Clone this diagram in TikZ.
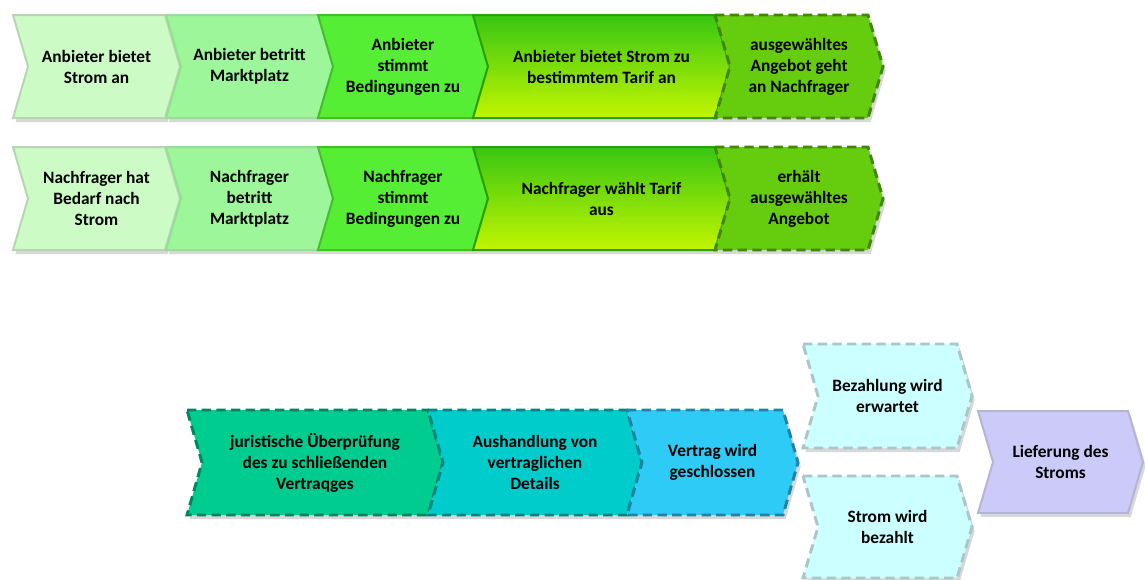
\documentclass[tikz,border=0pt]{standalone}
\usepackage{fontspec}
\setmainfont{Carlito}
\usepackage{tikz}
\usetikzlibrary{shadows}

\definecolor{paleGreen}{HTML}{CCFBC6}
\definecolor{lightGreen}{HTML}{9DF69A}
\definecolor{brightGreen}{HTML}{55EE35}
\definecolor{deepGreen}{HTML}{38C612}
\definecolor{limeGreen}{HTML}{C2F500}
\definecolor{oliveGreen}{HTML}{66CC0E}
\definecolor{tealGreen}{HTML}{00CC90}
\definecolor{tealCyan}{HTML}{00CCCC}
\definecolor{skyBlue}{HTML}{2ECBF7}
\definecolor{iceBlue}{HTML}{CCFFFF}
\definecolor{lavender}{HTML}{CCCAF8}

% chevron: name, left, top, right (body), bottom, style, text
\newcommand{\chev}[7]{%
  \path[chevron, #6] (#2,#3) -- (#4,#3) -- ({#4+15},{(#3+#5)/2}) -- (#4,#5)
    -- (#2,#5) -- ({#2+15},{(#3+#5)/2}) -- cycle;
  \node[label] (#1) at ({(#2+#4+15)/2},{(#3+#5)/2}) {#7};
}

\begin{document}
\begin{tikzpicture}[x=0.75pt, y=-0.75pt,
    chevron/.style={line width=1.5pt, line join=miter,
      drop shadow={shadow xshift=2pt, shadow yshift=-3pt, fill=black!30}},
    dashline/.style={line width=2.2pt, dash pattern=on 7pt off 4pt},
    label/.style={align=center, font=\bfseries\fontsize{13}{15.75}\selectfont, text=black}
  ]
  \useasboundingbox (0,0) rectangle (1145,579);

  % supplier row
  \chev{offer}{13}{15}{165}{118}{fill=paleGreen, draw=paleGreen!70!gray}{Anbieter bietet\\Strom an}
  \chev{offerEnter}{166}{15}{318}{118}{fill=lightGreen, draw=lightGreen!80!gray}{Anbieter betritt\\Marktplatz}
  \chev{offerAgree}{318}{15}{473}{118}{fill=brightGreen, draw=brightGreen!80!black}{Anbieter\\stimmt\\Bedingungen zu}
  \chev{offerTariff}{473}{15}{715}{118}{top color=deepGreen, bottom color=limeGreen, draw=deepGreen!80!black}{Anbieter bietet Strom zu\\bestimmtem Tarif an}
  \chev{offerSent}{715}{15}{868}{118}{fill=oliveGreen, draw=oliveGreen!65!black, dashline}{ausgewähltes\\Angebot geht\\an Nachfrager}

  % customer row
  \chev{demand}{13}{147}{165}{250}{fill=paleGreen, draw=paleGreen!70!gray}{Nachfrager hat\\Bedarf nach\\Strom}
  \chev{demandEnter}{166}{147}{318}{250}{fill=lightGreen, draw=lightGreen!80!gray}{Nachfrager\\betritt\\Marktplatz}
  \chev{demandAgree}{318}{147}{473}{250}{fill=brightGreen, draw=brightGreen!80!black}{Nachfrager\\stimmt\\Bedingungen zu}
  \chev{demandTariff}{473}{147}{715}{250}{top color=deepGreen, bottom color=limeGreen, draw=deepGreen!80!black}{Nachfrager wählt Tarif\\aus}
  \chev{demandGot}{715}{147}{868}{250}{fill=oliveGreen, draw=oliveGreen!65!black, dashline}{erhält\\ausgewähltes\\Angebot}

  % contract row
  \chev{legal}{187}{410}{428}{515}{fill=tealGreen, draw=tealGreen!65!black, dashline}{juristische Überprüfung\\des zu schließenden\\Vertraqges}
  \chev{negotiate}{428}{410}{627}{515}{fill=tealCyan, draw=tealCyan!65!black, dashline}{Aushandlung von\\vertraglichen\\Details}
  \chev{contract}{627}{410}{783}{515}{fill=skyBlue, draw=skyBlue!65!black, dashline}{Vertrag wird\\geschlossen}
  \chev{payWait}{803}{344}{957}{448}{fill=iceBlue, draw=iceBlue!55!gray, dashline}{Bezahlung wird\\erwartet}
  \chev{paid}{803}{476}{957}{578}{fill=iceBlue, draw=iceBlue!55!gray, dashline}{Strom wird\\bezahlt}
  \chev{delivery}{978}{411}{1128}{513}{fill=lavender, draw=lavender!70!gray}{Lieferung des\\Stroms}
\end{tikzpicture}
\end{document}
